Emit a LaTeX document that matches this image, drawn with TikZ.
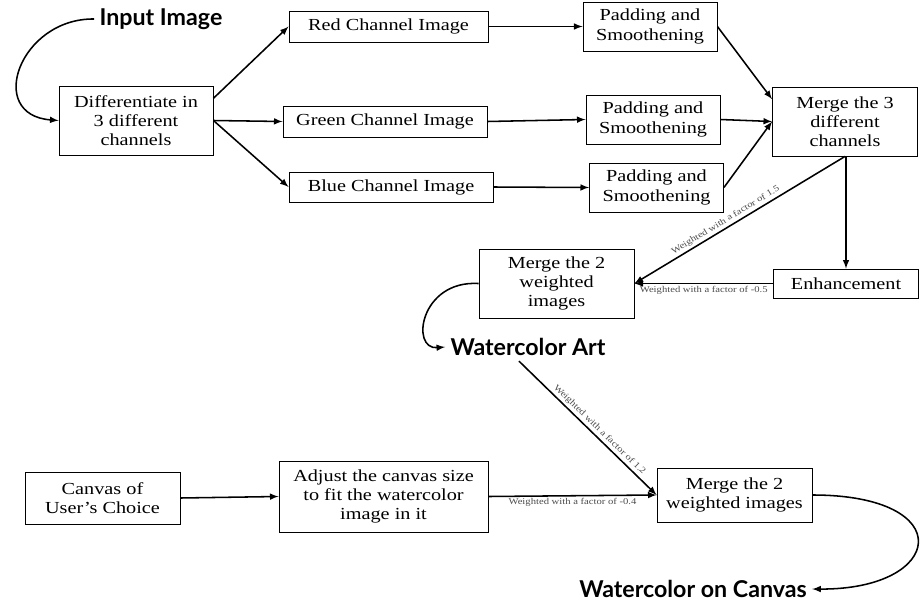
\documentclass[tikz,border=0pt]{standalone}
\usepackage{fontspec}
\setmainfont[FakeStretch=1.2]{Liberation Serif}
\newfontfamily\handfont{Lato}
\usetikzlibrary{calc}

\begin{document}
\begin{tikzpicture}
            [x=0.025cm,y=-0.025cm,line width=1.1pt,>=latex,
             box/.style={draw,line width=0.6pt,align=center,inner sep=1pt,font=\fontsize{12}{13.6}\selectfont},
             hand/.style={font=\handfont\bfseries\fontsize{16.5}{18}\selectfont},
             lbl/.style={font=\fontsize{6.3}{7}\selectfont,text=black!70,inner sep=1.5pt}]
            \useasboundingbox (0,0) rectangle (920,605);
            \node[box,minimum width=3.85cm,minimum height=1.725cm] (diff) at (136,120.5) {Differentiate in\\3 different\\channels};
            \node[box,minimum width=4.975cm,minimum height=0.775cm] (red) at (388.5,26.5) {Red Channel Image};
            \node[box,minimum width=5.1cm,minimum height=0.775cm] (green) at (385,121.5) {Green Channel Image};
            \node[box,minimum width=5.1cm,minimum height=0.75cm] (blue) at (391,187) {Blue Channel Image};
            \node[box,minimum width=3.35cm,minimum height=1.225cm] (pad1) at (650,26.5) {Padding and\\Smoothening};
            \node[box,minimum width=3.35cm,minimum height=1.225cm] (pad2) at (653,119.5) {Padding and\\Smoothening};
            \node[box,minimum width=3.35cm,minimum height=1.225cm] (pad3) at (656.5,187.5) {Padding and\\Smoothening};
            \node[box,minimum width=3.625cm,minimum height=1.725cm] (merge3) at (845,121.5) {Merge the 3\\different\\channels};
            \node[box,minimum width=3.625cm,minimum height=0.725cm] (enh) at (846,283.5) {Enhancement};
            \node[box,minimum width=3.875cm,minimum height=1.725cm] (mergeA) at (556.5,283.5) {Merge the 2\\weighted\\images};
            \node[box,minimum width=3.875cm,minimum height=1.3cm] (canvas) at (102.5,498) {Canvas of\\User's Choice};
            \node[box,minimum width=5.225cm,minimum height=1.775cm] (adjust) at (383.5,496.5) {Adjust the canvas size\\to fit the watercolor\\image in it};
            \node[box,minimum width=3.875cm,minimum height=1.35cm] (mergeB) at (734.5,495) {Merge the 2\\weighted images};
            \node[hand] (input) at (161,19) {Input Image};
            \node[hand] (wart) at (528,347) {Watercolor Art};
            \node[hand] (wcanvas) at (693,589) {Watercolor on Canvas};

            % split into channels
            \draw[->] (input.west) .. controls (20,18) and (-15,115) .. (diff.west);
            \draw[->] (diff.16) -- (red.west);
            \draw[->] (diff.east) -- (green.west);
            \draw[->] (diff.east) -- (blue.west);
            \draw[->] (red.east) -- (pad1.west);
            \draw[->] (green.east) -- (pad2.west);
            \draw[->] (blue.east) -- (pad3.west);
            % merge channels
            \draw[->] (pad1.east) -- (merge3.163);
            \draw[->] (pad2.east) -- (merge3.west);
            \draw[->] (pad3.east) -- (merge3.west);
            \draw[->] (enh.north |- merge3.south) -- (enh.north);
            \draw[->] (merge3.south) -- node[lbl,sloped,above,pos=0.55] {Weighted with a factor of 1.5} (mergeA.east);
            \draw[->] (enh.west) -- node[lbl,below] {Weighted with a factor of -0.5} (mergeA.east);
            \draw[->] (mergeA.west) .. controls (420,280) and (410,350) .. (wart.west);
            % canvas
            \draw[->] ([xshift=-0.225cm]wart.south) -- node[lbl,sloped,above,pos=0.55] {Weighted with a factor of 1.2} (mergeB.west);
            \draw[->] (canvas.east) -- (adjust.west);
            \draw[->] (adjust.east) -- node[lbl,below] {Weighted with a factor of -0.4} (mergeB.west);
            \draw[->] (mergeB.east) .. controls (960,495) and (945,590) .. (wcanvas.east);
\end{tikzpicture}
\end{document}
